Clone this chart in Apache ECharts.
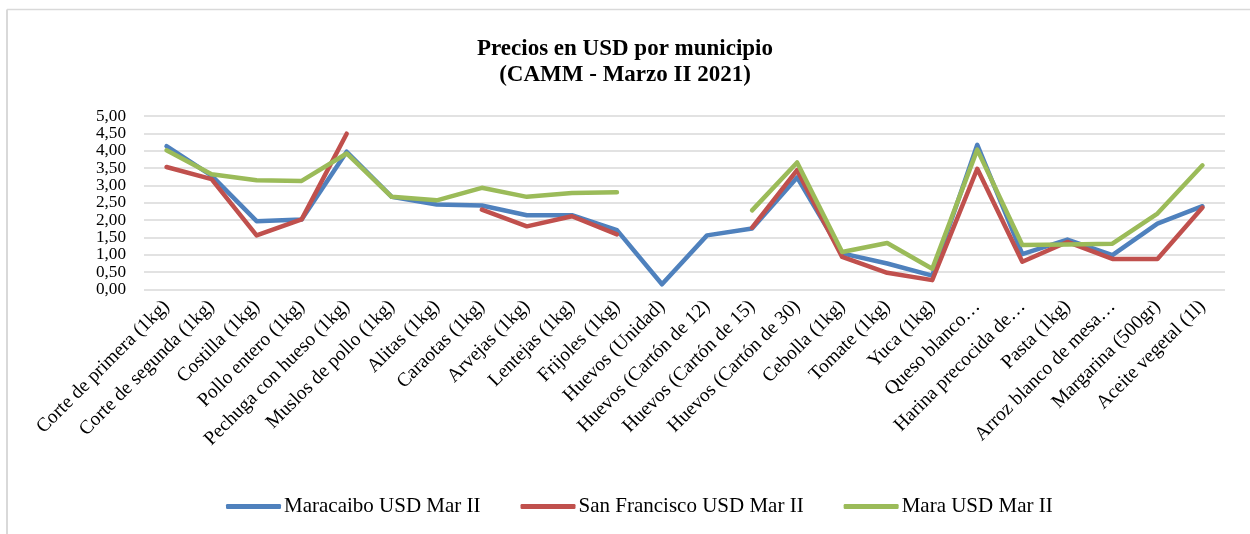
<!DOCTYPE html>
<html>
<head>
<meta charset="utf-8">
<script src="https://cdn.jsdelivr.net/npm/echarts@6/dist/echarts.min.js"></script>
<style>
html,body{margin:0;padding:0;background:#fff;}
#chart{width:1250px;height:534px;}
</style>
</head>
<body>
<div id="chart"></div>
<script>
const categories = [
  'Corte de primera (1kg)', 'Corte de segunda (1kg)', 'Costilla (1kg)', 'Pollo entero (1kg)',
  'Pechuga con hueso (1kg)', 'Muslos de pollo (1kg)', 'Alitas (1kg)', 'Caraotas (1kg)',
  'Arvejas (1kg)', 'Lentejas (1kg)', 'Frijoles (1kg)', 'Huevos (Unidad)',
  'Huevos (Cartón de 12)', 'Huevos (Cartón de 15)', 'Huevos (Cartón de 30)', 'Cebolla (1kg)',
  'Tomate (1kg)', 'Yuca (1kg)', 'Queso blanco…', 'Harina precocida de…',
  'Pasta (1kg)', 'Arroz blanco de mesa…', 'Margarina (500gr)', 'Aceite vegetal (1l)'
];
const maracaibo = [4.13, 3.28, 1.97, 2.02, 3.97, 2.67, 2.45, 2.42, 2.14, 2.14, 1.71, 0.15,
  1.56, 1.76, 3.23, 1.04, 0.75, 0.40, 4.17, 1.02, 1.44, 0.99, 1.90, 2.40];
const sanFrancisco = [3.53, 3.18, 1.56, 2.02, 4.49, null, null, 2.30, 1.82, 2.11, 1.59, null,
  null, 1.78, 3.44, 0.94, 0.48, 0.27, 3.48, 0.80, 1.37, 0.88, 0.88, 2.36];
const mara = [4.01, 3.32, 3.15, 3.13, 3.92, 2.67, 2.57, 2.93, 2.67, 2.78, 2.80, null,
  null, 2.28, 3.66, 1.08, 1.34, 0.60, 4.03, 1.28, 1.30, 1.32, 2.19, 3.58];
const seriesNames = ['Maracaibo USD Mar II', 'San Francisco USD Mar II', 'Mara USD Mar II'];
const yTickLabels = ['0,00','0,50','1,00','1,50','2,00','2,50','3,00','3,50','4,00','4,50','5,00'];
const titleText = 'Precios en USD por municipio\n(CAMM - Marzo II 2021)';

const FONT = '"Liberation Serif", "DejaVu Serif", serif';
const colors = ['#4F81BD', '#C0504D', '#9BBB59'];
const chart = echarts.init(document.getElementById('chart'), null, {renderer: 'canvas'});

function mkSeries(name, data, color) {
  return {
    name: name, type: 'line', data: data, symbol: 'none', connectNulls: false,
    lineStyle: {color: color, width: 4.5, cap: 'round', join: 'round'},
    itemStyle: {color: color},
    emphasis: {disabled: true},
    animation: false
  };
}

chart.setOption({
  animation: false,
  backgroundColor: '#fff',
  color: colors,
  title: {
    text: titleText, left: 'center', top: 31,
    textStyle: {fontFamily: FONT, fontWeight: 'bold', fontSize: 23, lineHeight: 26, color: '#000'}
  },
  graphic: [
    {type: 'line', shape: {x1: 7, y1: 9.5, x2: 1250, y2: 9.5}, style: {stroke: '#D9D9D9', lineWidth: 1.5}, silent: true},
    {type: 'line', shape: {x1: 7, y1: 9.5, x2: 7, y2: 534}, style: {stroke: '#D9D9D9', lineWidth: 2}, silent: true}
  ],
  legend: {
    left: 221, top: 491, itemWidth: 55, itemHeight: 5, itemGap: 40,
    icon: 'roundRect',
    textStyle: {fontFamily: FONT, fontSize: 21, color: '#000', padding: [0, 0, 0, -2]},
    data: seriesNames
  },
  grid: {left: 144, right: 25, top: 116, height: 173.5, containLabel: false},
  xAxis: {
    type: 'category', data: categories, boundaryGap: true,
    axisLine: {show: false}, axisTick: {show: false},
    axisLabel: {rotate: 45, interval: 0, margin: 14, fontFamily: FONT, fontSize: 19.5, color: '#000'}
  },
  yAxis: {
    type: 'value', min: 0, max: 5, interval: 0.5,
    axisLine: {show: false}, axisTick: {show: false},
    splitLine: {lineStyle: {color: '#D9D9D9', width: 1.5}},
    axisLabel: {
      margin: 18, fontFamily: FONT, fontSize: 17.2, color: '#000',
      showMinLabel: true, showMaxLabel: true,
      formatter: function (v) { return yTickLabels[Math.round(v / 0.5)]; }
    }
  },
  series: [
    mkSeries(seriesNames[0], maracaibo, colors[0]),
    mkSeries(seriesNames[1], sanFrancisco, colors[1]),
    mkSeries(seriesNames[2], mara, colors[2])
  ]
});
</script>
</body>
</html>
